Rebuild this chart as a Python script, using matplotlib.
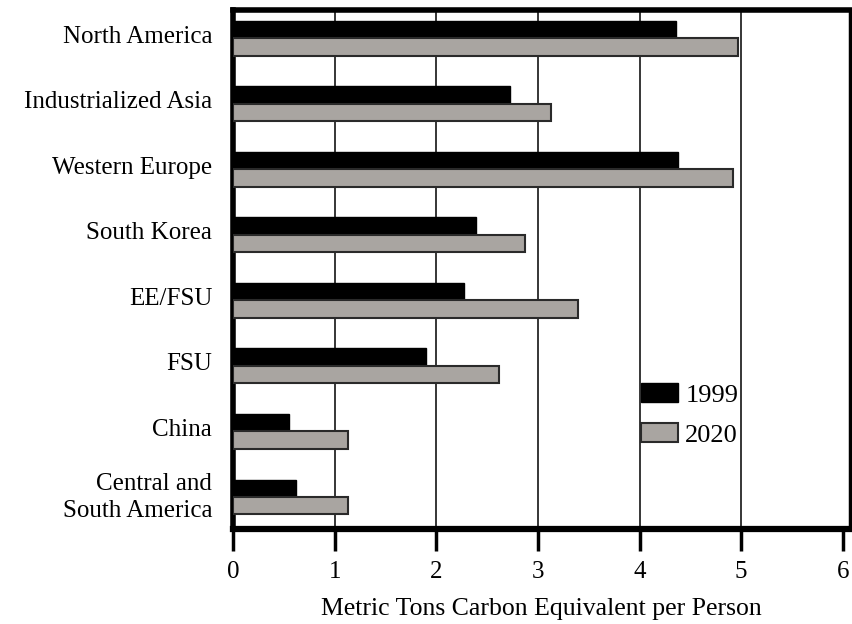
import matplotlib
matplotlib.use("Agg")
import matplotlib.pyplot as plt
import matplotlib.transforms as mtransforms
import numpy as np

categories = ["North America", "Industrialized Asia", "Western Europe", "South Korea",
              "EE/FSU", "FSU", "China", "Central and\nSouth America"]
values_1999 = [4.36, 2.73, 4.38, 2.39, 2.27, 1.90, 0.55, 0.62]
values_2020 = [4.97, 3.13, 4.92, 2.87, 3.39, 2.62, 1.13, 1.13]
series_labels = ["1999", "2020"]
x_ticks = [0, 1, 2, 3, 4, 5, 6]

plt.rcParams['font.family'] = ['Liberation Serif', 'DejaVu Serif']

W, H = 853, 624
fig = plt.figure(figsize=(W / 100, H / 100), dpi=100)
ax = fig.add_axes([233 / W, 1 - 529 / H, (850 - 233) / W, (529 - 10) / H])

y = np.arange(len(categories))
bh = 0.265
ax.barh(y - bh / 2, values_1999, height=bh, color="black", edgecolor="black",
        linewidth=1.0, label=series_labels[0], zorder=3)
ax.barh(y + bh / 2, values_2020, height=bh, color="#a9a5a1", edgecolor="#2a2a2a",
        linewidth=1.5, label=series_labels[1], zorder=3)

ax.set_xlim(0, 6.07)
ax.set_ylim(7.49, -0.43)
ax.set_xticks(x_ticks)
ax.set_xticklabels([str(t) for t in x_ticks], fontsize=18)
ax.set_yticks(y)
ax.set_yticklabels(categories, fontsize=18, linespacing=1.25)
ax.tick_params(axis="y", length=0, pad=15)
ax.tick_params(axis="x", direction="out", length=16, width=2.5, pad=7, color="black")

up = mtransforms.ScaledTranslation(0, 4 / 100, fig.dpi_scale_trans)
for lab in ax.get_yticklabels():
    lab.set_transform(lab.get_transform() + up)

for xv in x_ticks[1:-1]:
    ax.axvline(xv, color="black", linewidth=1.1, zorder=1)

for side, lw in (("left", 4.0), ("top", 4.0), ("bottom", 4.5), ("right", 2.5)):
    ax.spines[side].set_linewidth(lw)
    ax.spines[side].set_color("black")

ax.set_xlabel("Metric Tons Carbon Equivalent per Person", fontsize=18.5, labelpad=11)

leg = ax.legend(loc="upper left", bbox_to_anchor=(641 / W, 1 - 383 / H),
                bbox_transform=fig.transFigure, frameon=False, fontsize=19,
                handlelength=1.4, handleheight=0.72, handletextpad=0.28,
                labelspacing=0.62, borderpad=0, borderaxespad=0)

fig.savefig("out.png", dpi=100)
